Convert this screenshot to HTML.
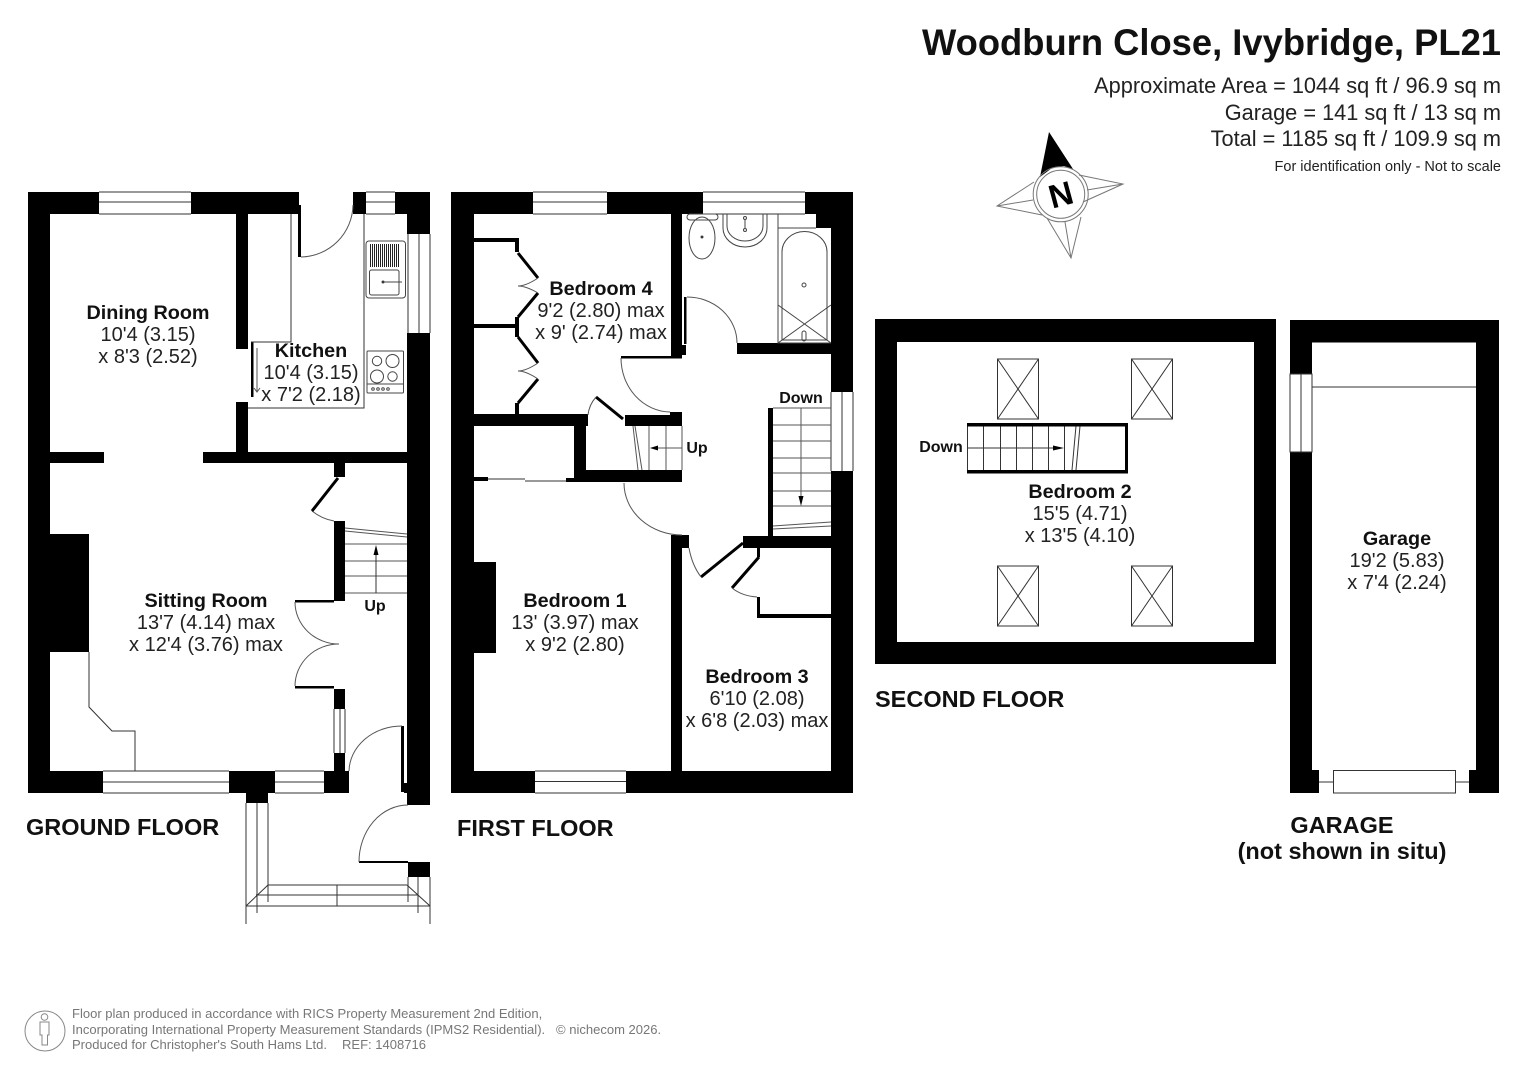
<!DOCTYPE html>
<html><head><meta charset="utf-8"><style>
html,body{margin:0;padding:0;background:#fff}
svg{display:block}
text{font-family:"Liberation Sans",Arial,sans-serif;fill:#111}
.b{font-weight:bold;font-size:19.8px;text-anchor:middle}
.r{font-size:20px;text-anchor:middle;fill:#222}
.s{font-weight:bold;font-size:16px;text-anchor:middle}
.f{font-weight:bold;font-size:23.5px}
.g{font-size:13.03px;fill:#777}
.t{fill:none;stroke:#333;stroke-width:1}
.l{fill:none;stroke:#555;stroke-width:1}
.k{fill:none;stroke:#000;stroke-width:3}
</style></head><body>
<svg width="1527" height="1080" viewBox="0 0 1527 1080" xmlns="http://www.w3.org/2000/svg">
<rect width="1527" height="1080" fill="#fff"/>

<!-- Header -->
<text x="1501" y="55" text-anchor="end" font-weight="bold" font-size="37.5" textLength="579" lengthAdjust="spacingAndGlyphs">Woodburn Close, Ivybridge, PL21</text>
<text x="1501" y="93" text-anchor="end" font-size="21.76" style="fill:#222">Approximate Area = 1044 sq ft / 96.9 sq m</text>
<text x="1501" y="120" text-anchor="end" font-size="21.76" style="fill:#222">Garage = 141 sq ft / 13 sq m</text>
<text x="1501" y="146" text-anchor="end" font-size="21.76" style="fill:#222">Total = 1185 sq ft / 109.9 sq m</text>
<text x="1501" y="171" text-anchor="end" font-size="14.5" style="fill:#222">For identification only - Not to scale</text>

<!-- Compass -->
<g>
<polygon points="1049,132 1040,177 1052,168 1064,166 1073,169" fill="#000"/>
<g fill="none" stroke="#777" stroke-width="1">
<polyline points="1079,175 1123,184 1083,202"/><line x1="1123" y1="184" x2="1087" y2="190"/>
<polyline points="1047,218 1071,258 1081,217"/><line x1="1071" y1="258" x2="1065" y2="222"/>
<polyline points="1034,182 997,206 1042,215"/><line x1="997" y1="206" x2="1033" y2="200"/>
<circle cx="1060.7" cy="194.3" r="27.5"/><circle cx="1060.7" cy="194.3" r="24"/>
</g>
<text x="1060.7" y="206" text-anchor="middle" font-weight="bold" font-size="33" transform="rotate(-15 1060.7 194.3)" style="fill:#000">N</text>
</g>

<!-- GROUND FLOOR -->
<g fill="#000">
<rect x="28" y="192" width="71" height="22"/>
<rect x="191" y="192" width="108" height="22"/>
<rect x="353" y="192" width="13" height="22"/>
<rect x="395" y="192" width="35" height="22"/>
<rect x="407" y="192" width="23" height="42"/>
<rect x="28" y="192" width="22" height="601"/>
<rect x="407" y="333" width="23" height="472"/>
<rect x="28" y="771" width="75" height="22"/>
<rect x="229" y="771" width="46" height="22"/>
<rect x="324" y="771" width="25" height="22"/>
<rect x="246" y="793" width="22" height="10"/>
<rect x="236" y="214" width="12" height="135"/>
<rect x="236" y="402" width="12" height="50"/>
<rect x="50" y="452" width="54" height="11"/>
<rect x="203" y="452" width="204" height="11"/>
<rect x="334" y="463" width="11" height="14"/>
<rect x="334" y="521" width="11" height="80"/>
<rect x="334" y="689" width="11" height="20"/>
<rect x="334" y="753" width="11" height="18"/>
<rect x="50" y="534" width="39" height="118"/>
<rect x="298" y="205" width="3" height="52"/>
<rect x="251" y="342" width="2.5" height="55"/>
<rect x="401" y="726" width="3" height="66"/>
<rect x="404" y="783" width="3" height="10"/>
<rect x="408" y="862" width="22" height="15"/>
<rect x="295" y="600" width="39" height="2.5"/>
<rect x="295" y="686" width="39" height="2.5"/>
<rect x="359" y="861" width="49" height="2"/>
</g>
<g class="t">
<path d="M99 192H191M99 202H191M99 214H191" class="t"/>
<path d="M366 192H395M366 202H395M366 214H395" class="t"/>
<path d="M408 234V333M419 234V333M430 234V333" class="t"/>
<path d="M103 771H229M103 782H229M103 793H229" class="t"/>
<path d="M275 771H324M275 782H324M275 793H324" class="t"/>
<path d="M334 709V753M340 709V753M345 709V753" class="t"/>
<path d="M291 214V342H251" class="t"/>
<path d="M364 214V408H248" class="t"/>
<path d="M301 257A53 53 0 0 0 353 205" class="l"/>
<path d="M312 511Q322 519 334 521" class="l"/>
<path d="M295 602A44 42 0 0 0 339 644A44 42 0 0 0 295 686" class="l"/>
<path d="M402 726A53 46 0 0 0 349 771" class="l"/>
<path d="M359 862A49 57 0 0 1 408 805" class="l"/>
<path d="M89 652V707L112 731H135V771" class="t"/>
<path d="M345 528L407 534M345 531L407 537M345 544H407M345 561H407M345 576H407M345 593H407" class="l"/>
<path d="M376 593V548" class="t"/>
<path d="M246 803V924M257 803V913M268 803V902M408 877V902M418 877V913M430 877V924" class="t"/>
<path d="M268 885H407M256 895H418M246 906H430M337 885V906M268 885L246 906M407 885L430 906" class="t"/>
</g>
<line x1="338" y1="478" x2="312" y2="511" class="k"/>
<polygon points="376,545 373.5,555 378.5,555" fill="#000"/>
<path d="M257 348V392M254 388L257 392L260 388" class="l"/>

<!-- Kitchen appliances -->
<g fill="none" stroke="#444" stroke-width="1">
<rect x="366" y="241" width="39.5" height="57" rx="3"/>
<rect x="369.5" y="270" width="29.5" height="25" rx="2"/>
<path d="M370.5 244V267M372.5 244V267M374.5 244V267M376.5 244V267M378.5 244V267M380.5 244V267M382.5 244V267M384.5 244V267M386.5 244V267M388.5 244V267M390.5 244V267M392.5 244V267M394.5 244V267M396.5 244V267M398.5 244V267" stroke="#222"/>
<path d="M384 282H402M399 271V278M399 286V293"/>
<circle cx="383" cy="282" r="1" fill="#000"/>
<rect x="367" y="351" width="36.5" height="42" rx="1"/>
<circle cx="377" cy="361" r="4.7"/><circle cx="392.5" cy="361" r="6.5"/>
<circle cx="377" cy="376.5" r="6.5"/><circle cx="392.5" cy="376.5" r="4.7"/>
<line x1="367" y1="384" x2="403" y2="384"/>
<circle cx="373" cy="389" r="1.3"/><circle cx="378" cy="389" r="1.3"/><circle cx="383" cy="389" r="1.3"/><circle cx="388" cy="389" r="1.3"/>
</g>

<!-- FIRST FLOOR -->
<g fill="#000">
<rect x="451" y="192" width="82" height="22"/>
<rect x="607" y="192" width="96" height="22"/>
<rect x="805" y="192" width="48" height="22"/>
<rect x="451" y="192" width="23" height="601"/>
<rect x="816" y="192" width="37" height="36"/>
<rect x="831" y="192" width="22" height="200"/>
<rect x="831" y="471" width="22" height="322"/>
<rect x="451" y="771" width="84" height="22"/>
<rect x="626" y="771" width="227" height="22"/>
<rect x="671" y="214" width="11" height="143"/>
<rect x="621" y="356" width="61" height="2.5"/>
<rect x="684" y="297" width="2.5" height="47"/>
<rect x="682" y="345" width="4" height="10"/>
<rect x="737" y="343" width="94" height="11"/>
<rect x="474" y="238" width="45" height="4"/>
<rect x="515" y="238" width="4" height="14"/>
<rect x="515" y="317" width="4" height="20"/>
<rect x="474" y="324" width="45" height="4"/>
<rect x="515" y="403" width="4" height="12"/>
<rect x="474" y="414" width="114" height="12"/>
<rect x="574" y="414" width="12" height="68"/>
<rect x="586" y="470" width="96" height="12"/>
<rect x="625" y="415" width="57" height="11"/>
<rect x="670" y="412" width="12" height="4"/>
<rect x="474" y="477" width="14" height="4"/>
<rect x="566" y="478" width="20" height="4"/>
<rect x="768" y="408" width="5" height="128"/>
<rect x="743" y="536" width="88" height="12"/>
<rect x="671" y="535" width="18" height="13"/>
<rect x="671" y="535" width="11" height="236"/>
<rect x="474" y="562" width="22" height="91"/>
<rect x="757" y="548" width="3" height="9"/>
<rect x="757" y="597" width="3" height="21"/>
<rect x="757" y="614" width="74" height="4"/>
</g>
<g class="t">
<path d="M533 192H607M533 202H607M533 214H607"/>
<path d="M703 192H805M703 202H805M703 214H805"/>
<path d="M535 771H626M535 781.5H626M535 793H626"/>
<path d="M831 392V471M842 392V471M853 392V471"/>
<path d="M488 479H525M525 481H566"/>
</g>
<g class="k">
<path d="M518 253L538 278M538 293L518 317M518 337L538 363M538 379L518 403"/>
<path d="M596 397L623 419"/>
<path d="M743 543L701 577M759 557L732 588"/>
</g>
<g class="l">
<path d="M538 278Q526 286 518 286Q526 286 538 293"/>
<path d="M538 363Q526 371 518 371Q526 371 538 379"/>
<path d="M687 297A50 46 0 0 1 737 343"/>
<path d="M621 358A50 54 0 0 0 670 412"/>
<path d="M624 483A58 52 0 0 0 682 535"/>
<path d="M596 397Q589 405 588 415"/>
<path d="M689 548Q692 565 701 577"/>
<path d="M732 588Q742 596 757 597"/>
<path d="M633 426L638 470M635 426L642 470M649 426V470M666 426V470M682 426V470"/>
<path d="M651 448H682"/>
<path d="M773 425H831M773 441H831M773 458H831M773 473H831M773 491H831M773 506H831M773 408H831M801 408V500M773 526L831 522M773 529L831 526"/>
</g>
<polygon points="650,448 658,445.5 658,450.5" fill="#000"/>
<polygon points="801,506 798.5,496 803.5,496" fill="#000"/>
<!-- Bathroom -->
<g fill="none" stroke="#444" stroke-width="1">
<path d="M778 214V343H831M778 228H816"/>
<path d="M782 340V252A22 20 0 0 1 827 252V340Z"/>
<circle cx="804" cy="285" r="2"/>
<path d="M778 305L831 343M831 305L778 343"/>
<rect x="802" y="331" width="4" height="10" rx="2"/>
<rect x="687" y="214" width="31" height="6" rx="3"/>
<ellipse cx="702" cy="238" rx="13" ry="21"/>
<circle cx="702" cy="237" r="1" fill="#000"/>
<path d="M723 214V228A22 19 0 0 0 767 228V214"/>
<path d="M727 214V226A18 15 0 0 0 763 226V214"/>
<circle cx="745" cy="218" r="1.5"/><circle cx="745" cy="230" r="1.5"/><line x1="745" y1="219" x2="745" y2="228"/>
</g>

<!-- SECOND FLOOR -->
<path fill-rule="evenodd" d="M875 319H1276V664H875ZM897 342V642H1254V342Z" fill="#000"/>
<g class="t">
<path d="M997.5 359H1038.5V419H997.5ZM997.5 359L1038.5 419M1038.5 359L997.5 419"/>
<path d="M1131.5 359H1172.5V419H1131.5ZM1131.5 359L1172.5 419M1172.5 359L1131.5 419"/>
<path d="M997.5 566H1038.5V626H997.5ZM997.5 566L1038.5 626M1038.5 566L997.5 626"/>
<path d="M1131.5 566H1172.5V626H1131.5ZM1131.5 566L1172.5 626M1172.5 566L1131.5 626"/>
<path d="M967.5 423V473M983.5 426V470M1000.5 426V470M1016.5 426V470M1032.5 426V470M1048.5 426V470M1064.5 426V470M1076 426L1072 470M1080 426L1076 470M967 448H1056"/>
</g>
<rect x="967" y="423" width="161" height="3.5" fill="#000"/>
<rect x="967" y="470" width="161" height="3.5" fill="#000"/>
<rect x="1125" y="423" width="3" height="50.5" fill="#000"/>
<polygon points="1064,448 1053,445.5 1053,450.5" fill="#000"/>

<!-- GARAGE -->
<g fill="#000">
<rect x="1290" y="320" width="209" height="22.5"/>
<rect x="1290" y="320" width="22" height="54"/>
<rect x="1290" y="452" width="22" height="341"/>
<rect x="1476" y="320" width="23" height="473"/>
<rect x="1290" y="770" width="29" height="23"/>
<rect x="1469" y="770" width="30" height="23"/>
</g>
<g class="t">
<path d="M1312 387H1476"/>
<path d="M1290 374H1312V452H1290ZM1301 374V452"/>
<path d="M1333.5 770.5H1455.5V793H1333.5Z"/>
<path d="M1319 782H1333M1455 782H1469"/>
</g>

<!-- Room labels -->
<text class="b" x="148" y="319">Dining Room</text><text class="r" x="148" y="341">10'4 (3.15)</text><text class="r" x="148" y="363">x 8'3 (2.52)</text>
<text class="b" x="311" y="357">Kitchen</text><text class="r" x="311" y="379">10'4 (3.15)</text><text class="r" x="311" y="401">x 7'2 (2.18)</text>
<text class="b" x="206" y="607">Sitting Room</text><text class="r" x="206" y="629">13'7 (4.14) max</text><text class="r" x="206" y="651">x 12'4 (3.76) max</text>
<text class="b" x="601" y="295">Bedroom 4</text><text class="r" x="601" y="317">9'2 (2.80) max</text><text class="r" x="601" y="339">x 9' (2.74) max</text>
<text class="b" x="575" y="607">Bedroom 1</text><text class="r" x="575" y="629">13' (3.97) max</text><text class="r" x="575" y="651">x 9'2 (2.80)</text>
<text class="b" x="757" y="683">Bedroom 3</text><text class="r" x="757" y="705">6'10 (2.08)</text><text class="r" x="757" y="727">x 6'8 (2.03) max</text>
<text class="b" x="1080" y="498">Bedroom 2</text><text class="r" x="1080" y="520">15'5 (4.71)</text><text class="r" x="1080" y="542">x 13'5 (4.10)</text>
<text class="b" x="1397" y="545">Garage</text><text class="r" x="1397" y="567">19'2 (5.83)</text><text class="r" x="1397" y="589">x 7'4 (2.24)</text>
<text class="s" x="375" y="611">Up</text>
<text class="s" x="697" y="453">Up</text>
<text class="s" x="801" y="403">Down</text>
<text class="s" x="941" y="452">Down</text>

<!-- Floor labels -->
<text class="f" x="26" y="835">GROUND FLOOR</text>
<text class="f" x="457" y="836">FIRST FLOOR</text>
<text class="f" x="875" y="707">SECOND FLOOR</text>
<text class="f" x="1342" y="833" text-anchor="middle">GARAGE</text>
<text class="f" x="1342" y="859" text-anchor="middle">(not shown in situ)</text>

<!-- Footer -->
<g fill="none" stroke="#888" stroke-width="1">
<ellipse cx="45" cy="1031" rx="20" ry="20"/>
<circle cx="44.5" cy="1017" r="3.3"/>
<path d="M40 1022H49V1035H47.5V1045H42V1035H40Z"/>
</g>
<text class="g" x="72" y="1018">Floor plan produced in accordance with RICS Property Measurement 2nd Edition,</text>
<text class="g" x="72" y="1034">Incorporating International Property Measurement Standards (IPMS2 Residential).</text>
<text class="g" x="556" y="1034">© nichecom 2026.</text>
<text class="g" x="72" y="1049">Produced for Christopher's South Hams Ltd.</text>
<text class="g" x="342" y="1049">REF: 1408716</text>
</svg>
</body></html>
